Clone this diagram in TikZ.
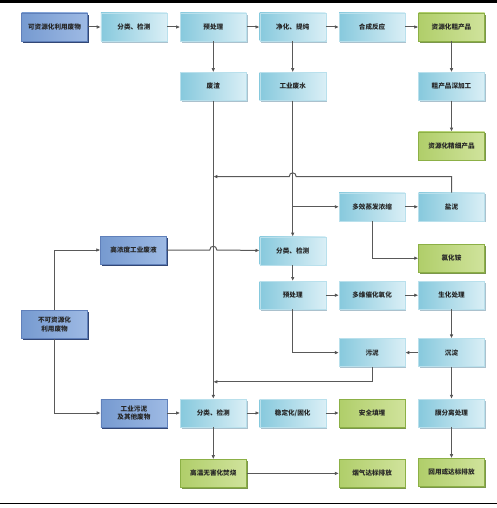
\documentclass[tikz,border=0pt]{standalone}
\usepackage{fontspec}
\newfontfamily\cjk{Noto Sans CJK SC}
\usetikzlibrary{arrows.meta,positioning,shadows}
\definecolor{cyanL}{RGB}{135,201,221}
\definecolor{cyanR}{RGB}{218,239,246}
\definecolor{cyanB}{RGB}{185,224,236}
\definecolor{cyanS}{RGB}{150,178,192}
\definecolor{grnL}{RGB}{176,206,106}
\definecolor{grnR}{RGB}{208,227,156}
\definecolor{grnB}{RGB}{140,176,70}
\definecolor{grnS}{RGB}{118,146,62}
\definecolor{navL}{RGB}{118,154,208}
\definecolor{navR}{RGB}{158,186,228}
\definecolor{navB}{RGB}{96,128,186}
\definecolor{navS}{RGB}{38,58,108}
\tikzset{
  box/.style={
    draw=cyanB,
    rectangle,
    minimum height=28pt,
    minimum width=66pt,
    inner sep=1pt,
    align=center,
    text=black!85,
    font=\cjk\bfseries\fontsize{6.6}{8.5}\selectfont,
    left color=cyanL, right color=cyanR,
    drop shadow={shadow xshift=1.3pt, shadow yshift=-1.6pt, fill=cyanS, opacity=0.8}
  },
  gbox/.style={
    box,
    draw=grnB,
    left color=grnL, right color=grnR,
    drop shadow={shadow xshift=1.3pt, shadow yshift=-1.6pt, fill=grnS, opacity=0.9}
  },
  nbox/.style={
    box,
    draw=navB,
    left color=navL, right color=navR,
    drop shadow={shadow xshift=1.5pt, shadow yshift=-1.8pt, fill=navS, opacity=0.9}
  },
  arrow/.style={
    -{Latex[length=4pt,width=3.6pt,fill=black]}, line width=1pt, draw=black!65}
}

\begin{document}
\begin{tikzpicture}[x=1pt, y=-1pt, node distance=31pt and 13pt]
\useasboundingbox (0,0) rectangle (497,508);
\draw[line width=3pt] (0,1.5) -- (497,1.5);
\draw[line width=0.8pt] (0,503) -- (497,503);

% --- resource route (top) ---
\node[nbox] (src1) at (54.5,27) {可资源化利用废物};
\node[box, right=of src1] (cls1) {分类、检测};
\node[box, right=of cls1] (pre1) {预处理};
\node[box, right=of pre1] (pur)  {净化、提纯};
\node[box, right=of pur]  (syn)  {合成反应};
\node[gbox, right=of syn] (crude) {资源化粗产品};
\node[box, below=of pre1]  (slag) {废渣};
\node[box, below=of pur]   (ww)   {工业废水};
\node[box, below=of crude] (deep) {粗产品深加工};
\node[gbox, below=of deep] (fine) {资源化精细产品};

% --- waste liquid route (middle) ---
\node[box, below=136pt of ww]  (cls2) {分类、检测};
\node[box, below=16pt of cls2] (pre2) {预处理};
\node[box, right=of pre2] (oxi)  {多维催化氧化};
\node[box, right=of oxi]  (bio)  {生化处理};
\node[box, above=60pt of oxi] (evap) {多效蒸发浓缩};
\node[box, right=of evap] (salt) {盐泥};
\node[gbox, below=23pt of salt] (nh4) {氯化铵};
\node[box, below=29pt of bio] (sed) {沉淀};
\node[box, left=of sed] (sludge) {污泥};
\node[nbox] (hconc) at (133.5,250) {高浓度工业废液};

% --- non-resource route (bottom) ---
\node[nbox] (src2) at (54.5,324.5) {不可资源化\\利用废物};
\node[box, below=32pt of sed] (mem) {膜分离处理};
\node[gbox, left=of mem] (fill) {安全填埋};
\node[box, left=of fill] (stab) {稳定化/固化};
\node[box, left=of stab] (cls3) {分类、检测};
\node[nbox, left=of cls3] (isl) {工业污泥\\及其他废物};
\node[gbox, below=32pt of cls3] (burn) {高温无害化焚烧};
\node[gbox] (flue) at (burn -| fill) {烟气达标排放};
\node[gbox, below=31pt of mem] (reuse) {回用或达标排放};

% --- top row flows ---
\draw[arrow] (src1) -- (cls1);
\draw[arrow] (cls1) -- (pre1);
\draw[arrow] (pre1) -- (pur);
\draw[arrow] (pur)  -- (syn);
\draw[arrow] (syn)  -- (crude);
\draw[arrow] (pre1) -- (slag);
\draw[arrow] (pur)  -- (ww);
\draw[arrow] (crude) -- (deep);
\draw[arrow] (deep) -- (fine);
\draw[arrow] (slag) -- (cls3);
\draw[arrow] (ww)   -- (cls2);

% --- evaporation branch ---
\draw[arrow] (evap.west -| ww) -- (evap);
\draw[arrow] (evap) -- (salt);
\draw[arrow] (evap.south) |- (nh4.west);
\coordinate (saltup) at ([yshift=16pt]salt.north);
\draw[arrow] (salt.north) -- (saltup) -- ([xshift=3.5pt]saltup -| ww)
  .. controls +(0,-5) and +(0,-5) .. ([xshift=-3.5pt]saltup -| ww) -- (saltup -| slag);

% --- waste liquid treatment ---
\draw[arrow] (hconc) -- ([xshift=-3.5pt]hconc -| slag)
  .. controls +(0,-5) and +(0,-5) .. ([xshift=3.5pt]hconc -| slag) -- (cls2);
\draw[arrow] (cls2) -- (pre2);
\draw[arrow] (pre2) -- (oxi);
\draw[arrow] (oxi)  -- (bio);
\draw[arrow] (bio)  -- (sed);
\draw[arrow] (sed)  -- (sludge);
\draw[arrow] (pre2.south) |- (sludge.west);
\coordinate (sludown) at ([yshift=-15pt]sludge.south);
\draw[arrow] (sludge.south) -- (sludown) -- (sludown -| slag);
\draw[arrow] (sed)  -- (mem);
\draw[arrow] (mem)  -- (reuse);

% --- solid waste ---
\draw[arrow] (src2.north) |- (hconc.west);
\draw[arrow] (src2.south) |- (isl.west);
\draw[arrow] (isl)  -- (cls3);
\draw[arrow] (cls3) -- (stab);
\draw[arrow] (stab) -- (fill);
\draw[arrow] (cls3) -- (burn);
\draw[arrow] (burn) -- (flue);

\end{tikzpicture}
\end{document}
